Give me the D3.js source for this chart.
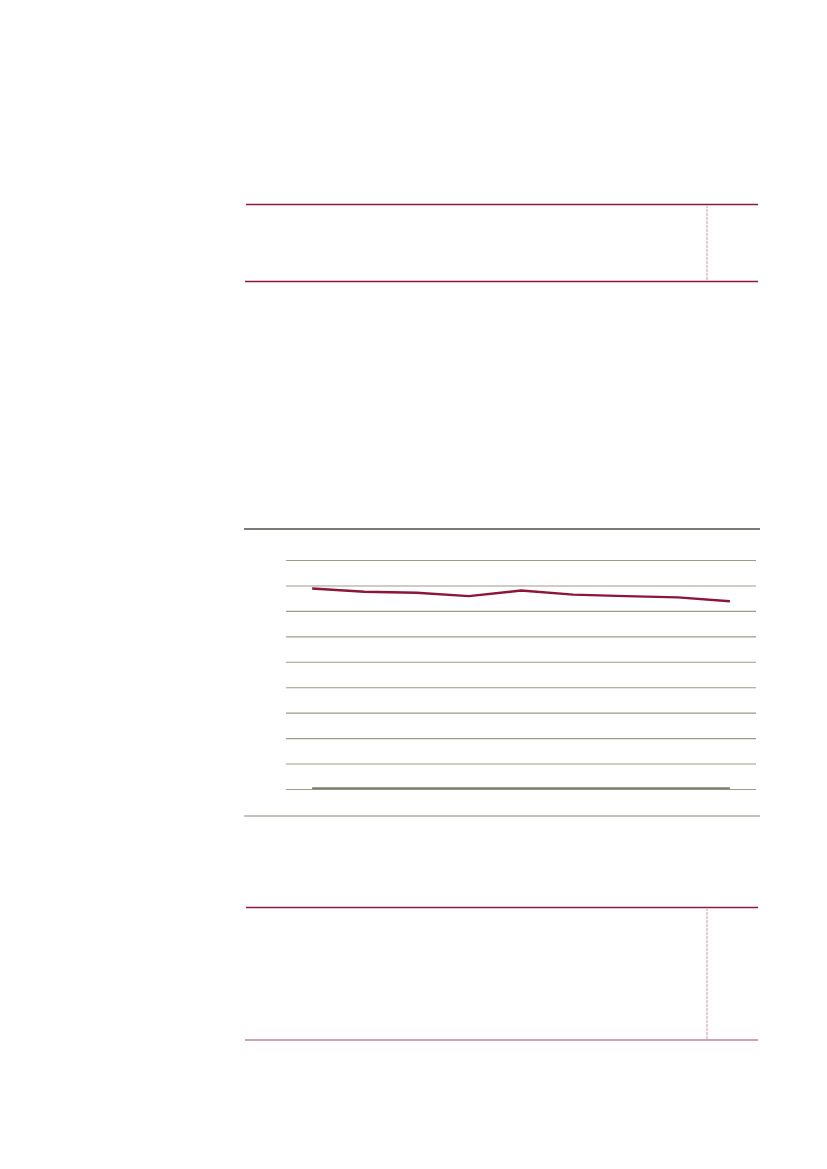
<!DOCTYPE html>
<html>
<head>
<meta charset="utf-8">
<script src="https://cdn.jsdelivr.net/npm/d3@7"></script>
<style>
  html, body { margin: 0; padding: 0; background: #fff; }
  svg { display: block; }
</style>
</head>
<body>
<div id="page"></div>
<script>
// chart values
var periods = [1, 2, 3, 4, 5, 6, 7, 8, 9];
var seriesMain = [7.88, 7.75, 7.71, 7.58, 7.80, 7.64, 7.58, 7.53, 7.38];
var seriesBase = [0, 0, 0, 0, 0, 0, 0, 0, 0];
var yTicks = [0, 1, 2, 3, 4, 5, 6, 7, 8, 9];

var svg = d3.select('#page')
  .append('svg')
  .attr('width', 827)
  .attr('height', 1169);

svg.append('rect')
  .attr('width', 827).attr('height', 1169)
  .attr('fill', '#fff');

function rule(x1, x2, y, colour, w) {
  svg.append('line')
    .attr('x1', x1).attr('x2', x2)
    .attr('y1', y).attr('y2', y)
    .attr('stroke', colour)
    .attr('stroke-width', w);
}

function dashed(x, y1, y2) {
  svg.append('line')
    .attr('x1', x).attr('x2', x)
    .attr('y1', y1).attr('y2', y2)
    .attr('stroke', '#e8b8c6')
    .attr('stroke-width', 1.5)
    .attr('stroke-dasharray', '3,1');
}

// top table box
rule(246, 758, 204.5, '#8c1a3c', 1.4);
rule(245, 758, 281.5, '#8c1a3c', 1.4);
dashed(707, 205, 281);

// chart frame
rule(244, 760, 529, '#505048', 1.5);
rule(244, 760, 816, '#b0b0a2', 1.6);

// chart
var x = d3.scalePoint()
  .domain(periods)
  .range([286, 756])
  .padding(0.5);

var y = d3.scaleLinear()
  .domain([0, 9])
  .range([789, 560]);

var yAxis = d3.axisLeft(y)
  .tickValues(yTicks)
  .tickSize(-(756 - 286))
  .tickFormat('');

var g = svg.append('g')
  .attr('transform', 'translate(286,0)')
  .call(yAxis);
g.select('.domain').remove();
g.selectAll('.tick line')
  .attr('stroke', '#9c9c88')
  .attr('stroke-width', 1.1);

var line = d3.line()
  .x(function(d, i) { return x(periods[i]); })
  .y(function(d) { return y(d); });

svg.append('path')
  .datum(seriesBase)
  .attr('fill', 'none')
  .attr('stroke', '#7e7e6c')
  .attr('stroke-width', 2)
  .attr('transform', 'translate(0,-0.8)')
  .attr('d', line);

svg.append('path')
  .datum(seriesMain)
  .attr('fill', 'none')
  .attr('stroke', '#8c1538')
  .attr('stroke-width', 2.4)
  .attr('d', line);

// bottom table box
rule(246, 758, 907.5, '#8c1a3c', 1.4);
rule(245, 758, 1040, '#c0809a', 1.6);
dashed(707, 908, 1040);
</script>
</body>
</html>
